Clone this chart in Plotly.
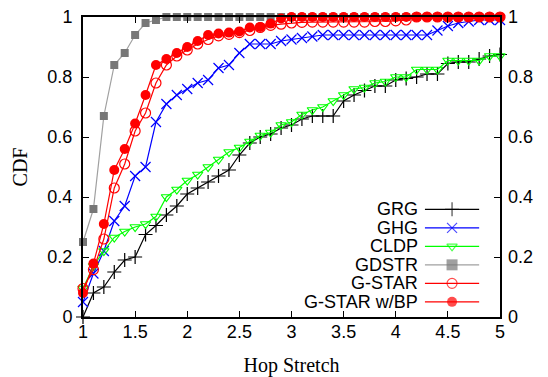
import plotly.graph_objects as go

# ---------------- data ----------------
hop_stretch = [1.0, 1.1, 1.2, 1.3, 1.4, 1.5, 1.6, 1.7, 1.8, 1.9,
               2.0, 2.1, 2.2, 2.3, 2.4, 2.5, 2.6, 2.7, 2.8, 2.9,
               3.0, 3.1, 3.2, 3.3, 3.4, 3.5, 3.6, 3.7, 3.8, 3.9,
               4.0, 4.1, 4.2, 4.3, 4.4, 4.5, 4.6, 4.7, 4.8, 4.9, 5.0]

grg = [0.00, 0.08, 0.10, 0.15, 0.19, 0.20, 0.275, 0.305, 0.34, 0.37,
       0.41, 0.43, 0.45, 0.47, 0.49, 0.54, 0.58, 0.60, 0.61, 0.63,
       0.64, 0.66, 0.67, 0.67, 0.67, 0.72, 0.74, 0.755, 0.77, 0.77,
       0.79, 0.795, 0.80, 0.81, 0.81, 0.845, 0.85, 0.85, 0.86, 0.87, 0.875]

ghg = [0.05, 0.145, 0.22, 0.32, 0.37, 0.47, 0.50, 0.65, 0.71, 0.74,
       0.76, 0.78, 0.79, 0.83, 0.84, 0.88, 0.91, 0.91, 0.91, 0.92,
       0.925, 0.93, 0.935, 0.94, 0.94, 0.94, 0.94, 0.94, 0.94, 0.94,
       0.94, 0.94, 0.94, 0.94, 0.955, 0.97, 0.98, 0.985, 0.99, 0.99, 0.99]

cldp = [0.095, 0.17, 0.22, 0.265, 0.285, 0.30, 0.31, 0.335, 0.40, 0.425,
        0.455, 0.475, 0.50, 0.525, 0.55, 0.565, 0.585, 0.605, 0.615, 0.64,
        0.65, 0.675, 0.69, 0.70, 0.72, 0.74, 0.76, 0.765, 0.78, 0.785,
        0.80, 0.80, 0.825, 0.825, 0.825, 0.855, 0.855, 0.855, 0.855, 0.87, 0.87]

gdstr = [0.25, 0.36, 0.67, 0.84, 0.88, 0.94, 0.98, 0.99, 1.0, 1.0,
         1.0, 1.0, 1.0, 1.0, 1.0, 1.0, 1.0, 1.0, 1.0, 1.0,
         1.0, 1.0, 1.0, 1.0, 1.0, 1.0, 1.0, 1.0, 1.0, 1.0,
         1.0, 1.0, 1.0, 1.0, 1.0, 1.0, 1.0, 1.0, 1.0, 1.0, 1.0]

gstar = [0.095, 0.158, 0.26, 0.43, 0.51, 0.62, 0.68, 0.78, 0.84, 0.87,
         0.89, 0.91, 0.925, 0.937, 0.942, 0.948, 0.955, 0.965, 0.972, 0.976,
         0.98, 0.982, 0.983, 0.983, 0.983, 0.983, 0.983, 0.983, 0.985, 0.985,
         0.987, 0.99, 1.0, 1.0, 1.0, 1.0, 1.0, 1.0, 1.0, 1.0, 1.0]

gstar_bp = [0.08, 0.178, 0.31, 0.49, 0.56, 0.645, 0.74, 0.84, 0.86, 0.88,
            0.90, 0.92, 0.94, 0.945, 0.948, 0.952, 0.965, 0.967, 0.978, 0.995,
            1.0, 1.0, 1.0, 1.0, 1.0, 1.0, 1.0, 1.0, 1.0, 1.0,
            1.0, 1.0, 1.0, 1.0, 1.0, 1.0, 1.0, 1.0, 1.0, 1.0, 1.0]

series_names = ["GRG", "GHG", "CLDP", "GDSTR", "G-STAR", "G-STAR w/BP"]
x_ticks = [1, 1.5, 2, 2.5, 3, 3.5, 4, 4.5, 5]
y_ticks = [0, 0.2, 0.4, 0.6, 0.8, 1]

# ---------------- styles ----------------
styles = [
    dict(line="#000000", marker="#000000", symbol="cross-thin", size=10, mlw=1.2),
    dict(line="#0000ff", marker="#0000ff", symbol="x-thin", size=10, mlw=1.2),
    dict(line="#00ff00", marker="#00ff00", symbol="triangle-down-open", size=9, mlw=1.2),
    dict(line="#a0a0a0", marker="#777777", symbol="square", size=8, mlw=0),
    dict(line="#ff0000", marker="#ff0000", symbol="circle-open", size=10, mlw=1.2),
    dict(line="#ff0000", marker="#ff0000", symbol="circle", size=10, mlw=0),
]
all_series = [grg, ghg, cldp, gdstr, gstar, gstar_bp]

fig = go.Figure()
for name, ys, st in zip(series_names, all_series, styles):
    fig.add_trace(go.Scatter(
        x=hop_stretch, y=ys, name=name, mode="lines+markers",
        line=dict(color=st["line"], width=1.2),
        marker=dict(symbol=st["symbol"], size=st["size"], color=st["marker"],
                    line=dict(color=st["marker"], width=st["mlw"])),
        cliponaxis=False, showlegend=False,
    ))

# invisible anchor trace so the right-hand y axis (tick labels) is drawn
fig.add_trace(go.Scatter(x=hop_stretch[:1], y=grg[:1], yaxis="y2", mode="none",
                         showlegend=False, hoverinfo="skip"))

# ---------------- manual gnuplot-style key ----------------
key_text_x = 0.807   # paper x of right edge of label
key_line_x0, key_line_x1, key_mark_x = 0.820, 0.950, 0.885
key_top, key_step = 0.359, 0.0617
for i, (name, st) in enumerate(zip(series_names, styles)):
    yk = key_top - i * key_step
    msize = st["size"] + (3 if st["symbol"] == "square" else 0)
    fig.add_trace(go.Scatter(
        x=[key_line_x0, key_mark_x, key_line_x1], y=[yk, yk, yk],
        xaxis="x3", yaxis="y3", mode="lines+markers",
        line=dict(color=st["line"], width=1.2),
        marker=dict(symbol=st["symbol"], size=[0, msize, 0], color=st["marker"],
                    line=dict(color=st["marker"], width=st["mlw"])),
        showlegend=False, hoverinfo="skip", cliponaxis=False,
    ))
    fig.add_annotation(x=key_text_x, y=yk, xref="paper", yref="paper",
                       text=name, showarrow=False, xanchor="right", yanchor="middle",
                       font=dict(family="Liberation Sans, Arial", size=18, color="#000"))

tick_font = dict(family="Liberation Sans, Arial", size=18, color="#000")
title_font = dict(family="Liberation Serif, Times New Roman", size=20, color="#000")

fig.update_layout(
    width=548, height=377,
    margin=dict(l=83, r=48, t=17, b=60, autoexpand=False),
    plot_bgcolor="#ffffff", paper_bgcolor="#ffffff",
    showlegend=False,
    xaxis=dict(range=[1, 5], tickvals=x_ticks, ticks="inside", ticklen=6,
               tickwidth=1, tickcolor="#000", showline=True, linecolor="#000",
               linewidth=2, mirror="ticks", showgrid=False, zeroline=False,
               tickfont=tick_font, ticklabelstandoff=-3,
               title=dict(text="Hop Stretch", font=title_font, standoff=18),
               automargin=False),
    yaxis=dict(range=[0, 1], tickvals=y_ticks, ticks="inside", ticklen=6,
               tickwidth=1, tickcolor="#000", showline=True, linecolor="#000",
               linewidth=2, mirror="ticks", showgrid=False, zeroline=False,
               tickfont=tick_font, ticklabelstandoff=5,
               title=dict(text="CDF", font=title_font, standoff=14),
               automargin=False),
    yaxis2=dict(range=[0, 1], tickvals=y_ticks, overlaying="y", side="right",
                ticks="", showline=False, showgrid=False, zeroline=False,
                tickfont=tick_font, ticklabelstandoff=7, automargin=False),
    xaxis3=dict(range=[0, 1], overlaying="x", visible=False, domain=[0, 1]),
    yaxis3=dict(range=[0, 1], overlaying="y", visible=False, domain=[0, 1]),
)

fig.write_html("out.html")
